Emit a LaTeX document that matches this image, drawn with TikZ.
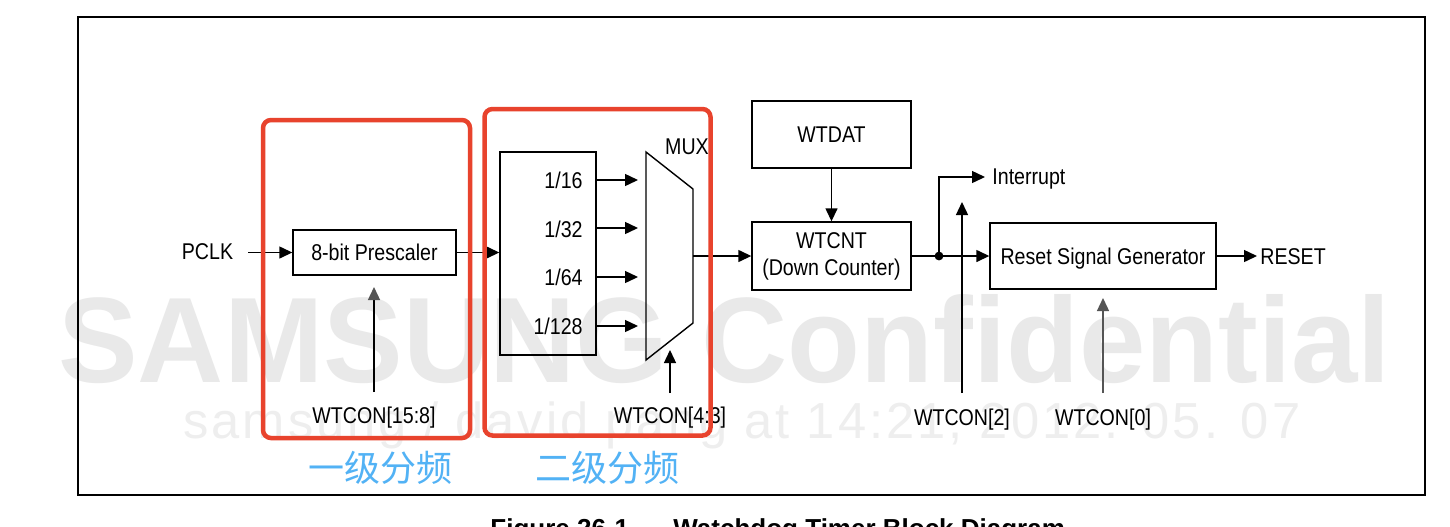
\documentclass[tikz,border=0pt]{standalone}
\usepackage{fontspec}
\setmainfont{Liberation Sans}[FakeStretch=0.86]
\newfontfamily\wmfont{Liberation Sans}
\newfontfamily\wmlight{Liberation Sans}[LetterSpace=6]
\newfontfamily\capfont{Liberation Sans}
\newfontfamily\cjkfont{Noto Sans CJK SC}
\usetikzlibrary{arrows.meta}
\definecolor{redbox}{HTML}{E8432D}
\definecolor{bluetxt}{HTML}{52B2F5}
\definecolor{wmgray}{HTML}{E9E9E9}
\definecolor{wmlightgray}{HTML}{EEEEEE}
\definecolor{darkgray}{HTML}{555555}
\begin{document}
\begin{tikzpicture}[x=0.5pt,y=-0.5pt,
  every node/.style={font=\fontsize{11.4pt}{13pt}\selectfont},
  blk/.style={draw, line width=0.7pt, inner sep=0pt, align=center},
  lbl/.style={inner sep=0pt, anchor=base},
  wire/.style={line width=0.7pt},
  arr/.style={line width=0.7pt, -{Triangle[length=6.5pt,width=6pt]}},
  garr/.style={line width=0.7pt, -{Triangle[length=6.5pt,width=6pt,color=darkgray]}},
  redframe/.style={draw=redbox, line width=2.25pt, rounded corners=4pt},
  cjk/.style={font=\cjkfont\fontsize{18pt}{20pt}\selectfont, text=bluetxt, inner sep=0pt},
  wm/.style={inner sep=0pt, anchor=base west, text=wmgray}
]
\useasboundingbox (0,0) rectangle (1450,526);
\fill[white] (0,0) rectangle (1450,526);

% watermark
\node[wm] (wm1) at (58,382) {\resizebox{666pt}{44pt}{\wmfont\bfseries SAMSUNG Confidential}};
\node[wm, text=wmlightgray] (wm2) at (183,438) {\resizebox{558.5pt}{!}{\wmlight\fontsize{25pt}{30pt}\selectfont samsung / david pang at 14:21, 2012. 05. 07}};

% outer frame
\draw[line width=0.9pt] (78,17) rectangle (1425,495);

% blocks
\node[blk, minimum width=81.5pt, minimum height=22.5pt] (pres) at (374.5,252.5) {8-bit Prescaler};
\node[blk, minimum width=48pt, minimum height=101.5pt] (div) at (548,253.5) {};
\node[blk, minimum width=79.5pt, minimum height=33.5pt] (wtdat) at (831.5,134.5) {WTDAT};
\node[blk, minimum width=79.5pt, minimum height=34pt] (wtcnt) at (831.5,256) {WTCNT\\[0.6pt](Down Counter)};
\node[blk, minimum width=113pt, minimum height=33pt, text depth=0pt] (rsg) at (1103,256) {Reset Signal Generator};

% MUX trapezoid
\coordinate (mtl) at (646,152);
\coordinate (mtr) at (693,189);
\coordinate (mbr) at (693,323);
\coordinate (mbl) at (646,360);
\draw[wire] (mtl) -- (mtr) -- (mbr) -- (mbl) -- cycle;
\node[lbl] (muxl) at (687,154) {MUX};

% divider labels
\node[lbl, anchor=base east] (t16) at (583,188) {1/16};
\node[lbl, anchor=base east] (t32) at (583,237) {1/32};
\node[lbl, anchor=base east] (t64) at (583,285) {1/64};
\node[lbl, anchor=base east] (t128) at (583,334) {1/128};

\coordinate (m16) at (638,180);
\coordinate (m32) at (638,228);
\coordinate (m64) at (638,277);
\coordinate (m128) at (638,326);
\draw[arr] (div.east |- m16) -- (m16);
\draw[arr] (div.east |- m32) -- (m32);
\draw[arr] (div.east |- m64) -- (m64);
\draw[arr] (div.east |- m128) -- (m128);

% labels
\node[lbl] (pclk) at (207.5,259) {PCLK};
\node[lbl] (w158) at (374,423) {WTCON[15:8]};
\node[lbl] (w43) at (670,423) {WTCON[4:3]};
\node[lbl] (w2) at (962,425) {WTCON[2]};
\node[lbl] (w0) at (1103,425) {WTCON[0]};
\node[lbl, anchor=base west] (intr) at (992,184) {Interrupt};
\node[lbl, anchor=base west] (rst) at (1260,264) {RESET};

% connectors
\coordinate (pclkout) at (248,252.5);
\draw[arr] (pclkout) -- (pres.west);
\draw[arr] (pres.east) -- (pres.east -| div.west);

\coordinate (w158top) at (374,392);
\coordinate (w158tip) at (374,287);
\draw[garr] (w158top) -- (w158tip);

\coordinate (w43top) at (670,393);
\coordinate (w43tip) at (670,350);
\draw[arr] (w43top) -- (w43tip);

\coordinate (muxout) at (693,256);
\draw[arr] (muxout) -- (wtcnt.west);

\draw[arr] (wtdat.south) -- (wtcnt.north);

\coordinate (jn) at (939,256);
\coordinate (intrin) at (985,177);
\draw[arr] (wtcnt.east) -- (rsg.west);
\draw[arr] (jn) |- (intrin);
\fill (jn) circle[radius=2.2pt];

\coordinate (w2top) at (962,393);
\coordinate (w2tip) at (962,202);
\draw[arr] (w2top) -- (w2tip);

\coordinate (w0top) at (1103,393);
\coordinate (w0tip) at (1103,298);
\draw[arr, draw=darkgray] (w0top) -- (w0tip);

\coordinate (rstout) at (1257,256);
\draw[arr] (rsg.east) -- (rstout);

% red highlight frames
\draw[redframe] (263,120) rectangle (470,438);
\draw[redframe] (484.5,109) rectangle (710.5,435.5);

% chinese labels
\node[cjk] (c1) at (380,468) {一级分频};
\node[cjk] (c2) at (607,468) {二级分频};

% caption (cut off at bottom)
\begin{scope}
\clip (0,0) rectangle (1450,526);
\node[lbl, anchor=base west, font=\capfont\bfseries\fontsize{13pt}{15pt}\selectfont] (cap1) at (490,537) {Figure 26-1};
\node[lbl, anchor=base west, font=\capfont\bfseries\fontsize{13pt}{15pt}\selectfont] (cap2) at (673,537) {Watchdog Timer Block Diagram};
\end{scope}
\end{tikzpicture}
\end{document}
